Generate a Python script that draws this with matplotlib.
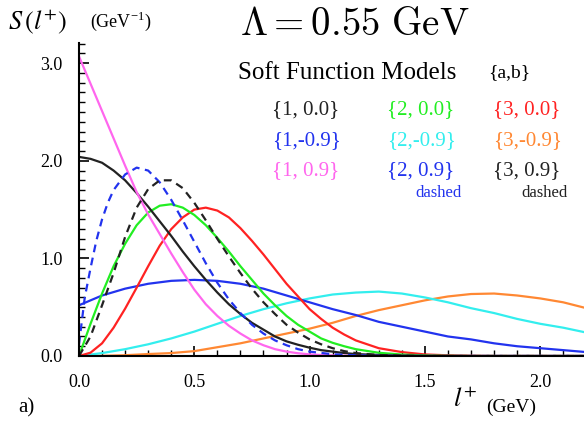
import matplotlib
matplotlib.use("Agg")
from matplotlib import pyplot as plt
from matplotlib.ticker import MultipleLocator

# values (x in GeV, S in GeV^-1)
x_fine = [0, 0.05, 0.1, 0.15, 0.2, 0.25, 0.3, 0.35, 0.4, 0.45, 0.5, 0.55, 0.6,
          0.65, 0.7, 0.75, 0.8, 0.85, 0.9, 0.95, 1.0, 1.05, 1.1, 1.15, 1.2,
          1.3, 1.4, 1.5, 1.6, 1.7, 1.8, 2.0, 2.2]
black_solid = [2.04, 2.02, 1.98, 1.90, 1.80, 1.67, 1.53, 1.38, 1.23, 1.07, 0.92, 0.78, 0.65,
               0.53, 0.43, 0.34, 0.27, 0.20, 0.15, 0.115, 0.085, 0.06, 0.045, 0.03, 0.02,
               0.01, 0.004, 0.001, 0, 0, 0, 0, 0]
green = [0, 0.33, 0.64, 0.92, 1.15, 1.34, 1.47, 1.54, 1.555, 1.52, 1.445, 1.34, 1.21,
         1.07, 0.92, 0.78, 0.64, 0.52, 0.41, 0.32, 0.25, 0.18, 0.135, 0.10, 0.07,
         0.033, 0.015, 0.006, 0.002, 0, 0, 0, 0]
red = [0, 0.034, 0.13, 0.29, 0.485, 0.70, 0.92, 1.13, 1.30, 1.42, 1.50, 1.52, 1.49,
       1.42, 1.31, 1.18, 1.04, 0.89, 0.74, 0.61, 0.48, 0.38, 0.29, 0.22, 0.16,
       0.08, 0.04, 0.016, 0.007, 0.002, 0, 0, 0]
magenta = [3.07, 2.79, 2.51, 2.23, 1.95, 1.68, 1.45, 1.25, 1.05, 0.86, 0.68, 0.53, 0.41,
           0.31, 0.23, 0.16, 0.11, 0.07, 0.045, 0.028, 0.017, 0.01, 0.006, 0.003, 0.001,
           0, 0, 0, 0, 0, 0, 0, 0]
black_dashed = [0, 0.2, 0.52, 0.85, 1.22, 1.52, 1.71, 1.80, 1.80, 1.72, 1.57, 1.39, 1.20,
                1.02, 0.85, 0.69, 0.55, 0.43, 0.32, 0.24, 0.17, 0.12, 0.08, 0.05, 0.03,
                0.01, 0.003, 0, 0, 0, 0, 0, 0]

x_blue_d = [0, 0.025, 0.05, 0.075, 0.1, 0.125, 0.15, 0.2, 0.25, 0.3, 0.35, 0.4, 0.45, 0.5,
            0.55, 0.6, 0.65, 0.7, 0.75, 0.8, 0.85, 0.9, 0.95, 1.0, 1.1, 1.2, 1.3, 1.4, 2.2]
blue_dashed = [0.12, 0.6, 0.9, 1.18, 1.40, 1.57, 1.70, 1.86, 1.93, 1.90, 1.78, 1.60, 1.39, 1.17,
               0.95, 0.75, 0.58, 0.44, 0.32, 0.23, 0.16, 0.11, 0.07, 0.045, 0.018, 0.007, 0.002, 0, 0]

x_coarse = [0, 0.1, 0.2, 0.3, 0.4, 0.5, 0.6, 0.7, 0.8, 0.9, 1.0, 1.1, 1.2, 1.3, 1.4,
            1.5, 1.6, 1.7, 1.8, 1.9, 2.0, 2.1, 2.2]
blue_solid = [0.52, 0.62, 0.69, 0.74, 0.77, 0.78, 0.77, 0.74, 0.69, 0.62, 0.55, 0.48, 0.42,
              0.35, 0.30, 0.25, 0.20, 0.17, 0.13, 0.10, 0.08, 0.06, 0.04]
cyan = [0, 0.03, 0.07, 0.12, 0.18, 0.25, 0.33, 0.41, 0.48, 0.54, 0.59, 0.63, 0.65,
        0.66, 0.64, 0.60, 0.55, 0.49, 0.44, 0.38, 0.33, 0.29, 0.24]
orange = [0, 0.002, 0.008, 0.02, 0.03, 0.05, 0.09, 0.13, 0.18, 0.23, 0.28, 0.34, 0.41,
          0.47, 0.52, 0.57, 0.61, 0.635, 0.64, 0.62, 0.59, 0.55, 0.49]

W, H = 584, 424
fig = plt.figure(figsize=(W / 100, H / 100), dpi=100)
ax = fig.add_axes([79 / W, (H - 356) / H, (W - 79) / W, (356 - 43) / H])

lw = 1.6
ax.plot(x_coarse, orange, color='#ff8833', lw=lw)
ax.plot(x_coarse, cyan, color='#33eeee', lw=lw)
ax.plot(x_coarse, blue_solid, color='#2233ee', lw=lw)
ax.plot(x_fine, red, color='#ff2222', lw=lw)
ax.plot(x_fine, green, color='#22ee22', lw=lw)
ax.plot(x_fine, black_solid, color='#222222', lw=lw)
ax.plot(x_fine, magenta, color='#ff66ee', lw=lw)
ax.plot(x_blue_d, blue_dashed, color='#2233ee', lw=lw, dashes=(3.5, 2.5))
ax.plot(x_fine, black_dashed, color='#222222', lw=lw, dashes=(3.5, 2.5))

ax.set_xlim(0, (W - 79) / 230.6)
ax.set_ylim(0, (356 - 43) / 97.6)
for s in ['top', 'right']:
    ax.spines[s].set_visible(False)
ax.spines['left'].set_linewidth(1.5)
ax.spines['bottom'].set_linewidth(1.5)

ax.xaxis.set_major_locator(MultipleLocator(0.5))
ax.xaxis.set_minor_locator(MultipleLocator(0.1))
ax.yaxis.set_major_locator(MultipleLocator(1.0))
ax.yaxis.set_minor_locator(MultipleLocator(0.1))
ax.xaxis.set_major_formatter(lambda v, p: f'{v:.1f}')
ax.yaxis.set_major_formatter(lambda v, p: f'{v:.1f}')
ax.tick_params(which='major', direction='in', length=7, width=1.2, labelsize=13)
ax.tick_params(which='minor', direction='in', length=4.5, width=1.0)
ax.tick_params(axis='x', which='major', pad=13)
ax.tick_params(axis='y', which='major', pad=12)
for lab in ax.get_xticklabels() + ax.get_yticklabels():
    lab.set_family('Liberation Serif')


def px(x, y):
    return x / W, 1 - y / H


serif = 'Liberation Serif'
fig.text(*px(8, 22), r'$S\,(l^{+})$', fontsize=19, va='center', ha='left',
         math_fontfamily='stix')
fig.text(*px(90, 21), r'(GeV$^{\mathregular{-1}}$)', fontsize=13, va='center', ha='left',
         family=serif)
fig.text(*px(240, 24), r'$\Lambda = 0.55\ \mathrm{GeV}$', fontsize=28, va='center', ha='left',
         math_fontfamily='cm')
fig.text(*px(238, 73), 'Soft Function Models', fontsize=18, va='center', ha='left', family=serif)
fig.text(*px(488, 73), '{a,b}', fontsize=14, va='center', ha='left', family=serif)

labels = [['{1, 0.0}', '{2, 0.0}', '{3, 0.0}'],
          ['{1,-0.9}', '{2,-0.9}', '{3,-0.9}'],
          ['{1, 0.9}', '{2, 0.9}', '{3, 0.9}']]
colors = [['#222222', '#22ee22', '#ff2222'],
          ['#2233ee', '#33eeee', '#ff8833'],
          ['#ff66ee', '#2233ee', '#222222']]
col_x = [272, 387, 493]
row_y = [110, 141, 171]
for i in range(3):
    for j in range(3):
        fig.text(*px(col_x[j], row_y[i]), labels[i][j], color=colors[i][j], fontsize=15,
                 va='center', ha='left', family=serif)
fig.text(*px(462, 193), 'dashed', color='#2233ee', fontsize=12, va='center', ha='right', family=serif)
fig.text(*px(568, 193), 'dashed', color='#222222', fontsize=12, va='center', ha='right', family=serif)

fig.text(*px(18, 408), 'a)', fontsize=15, va='center', ha='left', family=serif)
fig.text(*px(453, 400), r'$l^{+}$', fontsize=19, va='center', ha='left', math_fontfamily='stix')
fig.text(*px(486, 407), '(GeV)', fontsize=14, va='center', ha='left', family=serif)

fig.savefig('out.png', dpi=100)
